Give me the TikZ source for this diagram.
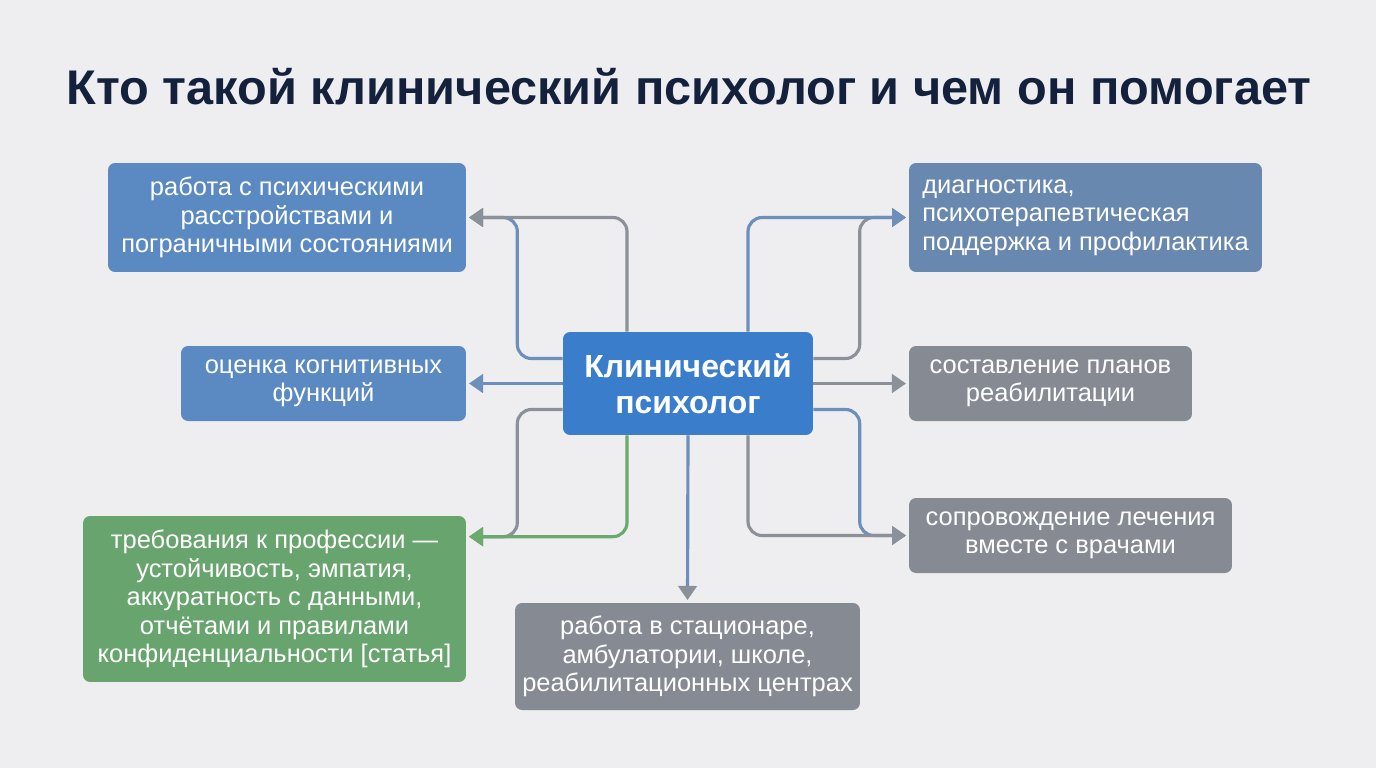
\documentclass[tikz,border=0pt]{standalone}
\usepackage{fontspec}
\setmainfont{Liberation Sans}
\usetikzlibrary{
  arrows.meta,
  positioning,
  calc
}
\definecolor{PageGray}{HTML}{EEEEF0}
\definecolor{TitleNavy}{HTML}{13213C}
\definecolor{CardBlue}{HTML}{5B8AC2}
\definecolor{CoreBlue}{HTML}{3A7DCB}
\definecolor{CardSlate}{HTML}{6888AF}
\definecolor{CardGreen}{HTML}{68A46D}
\definecolor{CardGray}{HTML}{868B93}
\definecolor{LineGray}{HTML}{8C9199}
\definecolor{LineBlue}{HTML}{6C8FBC}
\definecolor{LineGreen}{HTML}{6AAA6C}
\tikzset{
  card/.style={
    rounded corners=4pt,
    text=white,
    align=center,
    inner sep=0pt,
    font=\fontsize{14.5}{16.2}\selectfont
  },
  bluecard/.style={
    card,
    fill=CardBlue
  },
  greencard/.style={
    card,
    fill=CardGreen
  },
  graycard/.style={
    card,
    fill=CardGray
  },
  slatecard/.style={
    card,
    fill=CardSlate
  },
  link/.style={
    line width=1.8pt,
    rounded corners=8pt,
    shorten >=1.5pt,
    -{Triangle[length=8pt,width=10.5pt]}
  }
}

\begin{document}
\begin{tikzpicture}[
  x=0.02cm,
  y=-0.02cm
]

  \fill[PageGray] (0,0) rectangle (1376,768);

  \node[
    font=\fontsize{27.7}{32}\selectfont\bfseries,
    text=TitleNavy
  ] (title) at (689,87) {
    Кто такой клинический психолог и чем он помогает
  };

  \node[
    card,
    fill=CoreBlue,
    minimum width=5cm,
    minimum height=2.06cm,
    font=\fontsize{18.2}{20.5}\selectfont\bfseries
  ] (core) at (688,383.5) {
    Клинический\\
    психолог
  };

  \node[
    bluecard,
    minimum width=7.16cm,
    minimum height=2.18cm
  ] (disorders) at (287,217.5) {
    работа с психическими\\
    расстройствами и\\
    пограничными состояниями
  };

  \node[
    bluecard,
    minimum width=5.7cm,
    minimum height=1.5cm
  ] (cognition) at (323.5,383.5) {
    оценка когнитивных\\
    функций
  };

  \node[
    greencard,
    minimum width=7.66cm,
    minimum height=3.32cm
  ] (ethics) at (274.5,599) {
    требования к профессии —\\
    устойчивость, эмпатия,\\
    аккуратность с данными,\\
    отчётами и правилами\\
    конфиденциальности [статья]
  };

  \node[
    graycard,
    minimum width=6.9cm,
    minimum height=2.14cm
  ] (settings) at (687.5,656.5) {
    работа в стационаре,\\
    амбулатории, школе,\\
    реабилитационных центрах
  };

  \node[
    slatecard,
    align=left,
    minimum width=7.06cm,
    minimum height=2.18cm
  ] (diagnostics) at (1085.5,217.5) {
    диагностика,\\
    психотерапевтическая\\
    поддержка и профилактика
  };

  \node[
    graycard,
    minimum width=5.66cm,
    minimum height=1.5cm
  ] (plans) at (1050.5,383.5) {
    составление планов\\
    реабилитации
  };

  \node[
    graycard,
    minimum width=6.46cm,
    minimum height=1.5cm
  ] (treatment) at (1070.5,535.5) {
    сопровождение лечения\\
    вместе с врачами
  };

  % left side
  \draw[link, LineBlue]
  ($(core.west)+(0,-25)$) -|
  ($(disorders.east)+(51,0)$) --
  (disorders.east);

  \draw[link, LineGray]
  ($(core.north)+(-61,0)$) |-
  (disorders.east);

  \draw[link, LineBlue]
  (core.west) --
  (cognition.east);

  \draw[link, LineGray]
  ($(core.west)+(0,26)$) -|
  ($(ethics.north east)+(51,21)$) --
  ($(ethics.north east)+(0,21)$);

  \draw[link, LineGreen]
  ($(core.south)+(-61,0)$) |-
  ($(ethics.north east)+(0,21)$);

  % right side
  \draw[link, LineGray]
  ($(core.east)+(0,-25)$) -|
  ($(diagnostics.west)+(-49,0)$) --
  (diagnostics.west);

  \draw[link, LineBlue]
  ($(core.north)+(60,0)$) |-
  (diagnostics.west);

  \draw[link, LineGray]
  (core.east) --
  (plans.west);

  \draw[link, LineBlue]
  ($(core.east)+(0,26)$) -|
  ($(treatment.west)+(-49,0)$) --
  (treatment.west);

  \draw[link, LineGray]
  ($(core.south)+(60,0)$) |-
  (treatment.west);

  % bottom
  \draw[link, LineBlue, -{Triangle[length=8pt,width=10.5pt,color=LineGray]}]
  (core.south) --
  (settings.north);

\end{tikzpicture}
\end{document}
